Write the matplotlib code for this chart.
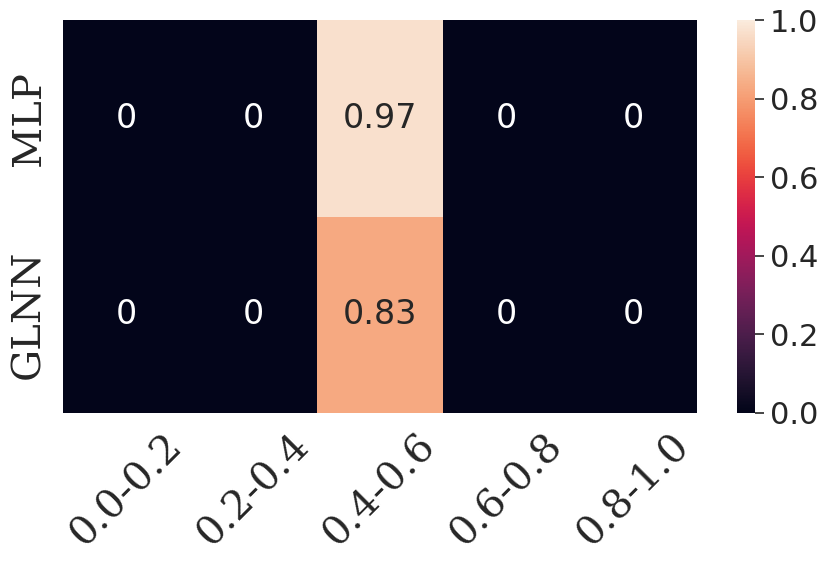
import numpy as np
import matplotlib
matplotlib.use("Agg")
import matplotlib.pyplot as plt
import seaborn as sns

# Data
models = ["MLP", "GLNN"]
bins = ["0.0-0.2", "0.2-0.4", "0.4-0.6", "0.6-0.8", "0.8-1.0"]
mlpVals = [0, 0, 0.97, 0, 0]
glnnVals = [0, 0, 0.83, 0, 0]

sns.set_theme(style="white")
plt.rcParams['font.family'] = ['DejaVu Sans']

data = np.array([mlpVals, glnnVals])

fig = plt.figure(figsize=(8.3, 5.67), dpi=100)
ax = fig.add_axes([63 / 830, 1 - 413 / 567, 634 / 830, 393 / 567])
cax = fig.add_axes([737 / 830, 1 - 413 / 567, 18 / 830, 393 / 567])

sns.heatmap(data, ax=ax, cbar_ax=cax, vmin=0, vmax=1, annot=True,
            annot_kws={"size": 24}, xticklabels=bins, yticklabels=models)

ax.set_xticklabels(bins, rotation=45, fontsize=29, family='DejaVu Serif')
ax.set_yticklabels(models, rotation=90, fontsize=29, family='DejaVu Serif', va='center')
ax.tick_params(axis='x', length=0, pad=10)
ax.tick_params(axis='y', length=0, pad=11)
cax.tick_params(labelsize=22, length=6.5, width=1.2, pad=4, color='#262626')

fig.savefig("out.png", dpi=100)
